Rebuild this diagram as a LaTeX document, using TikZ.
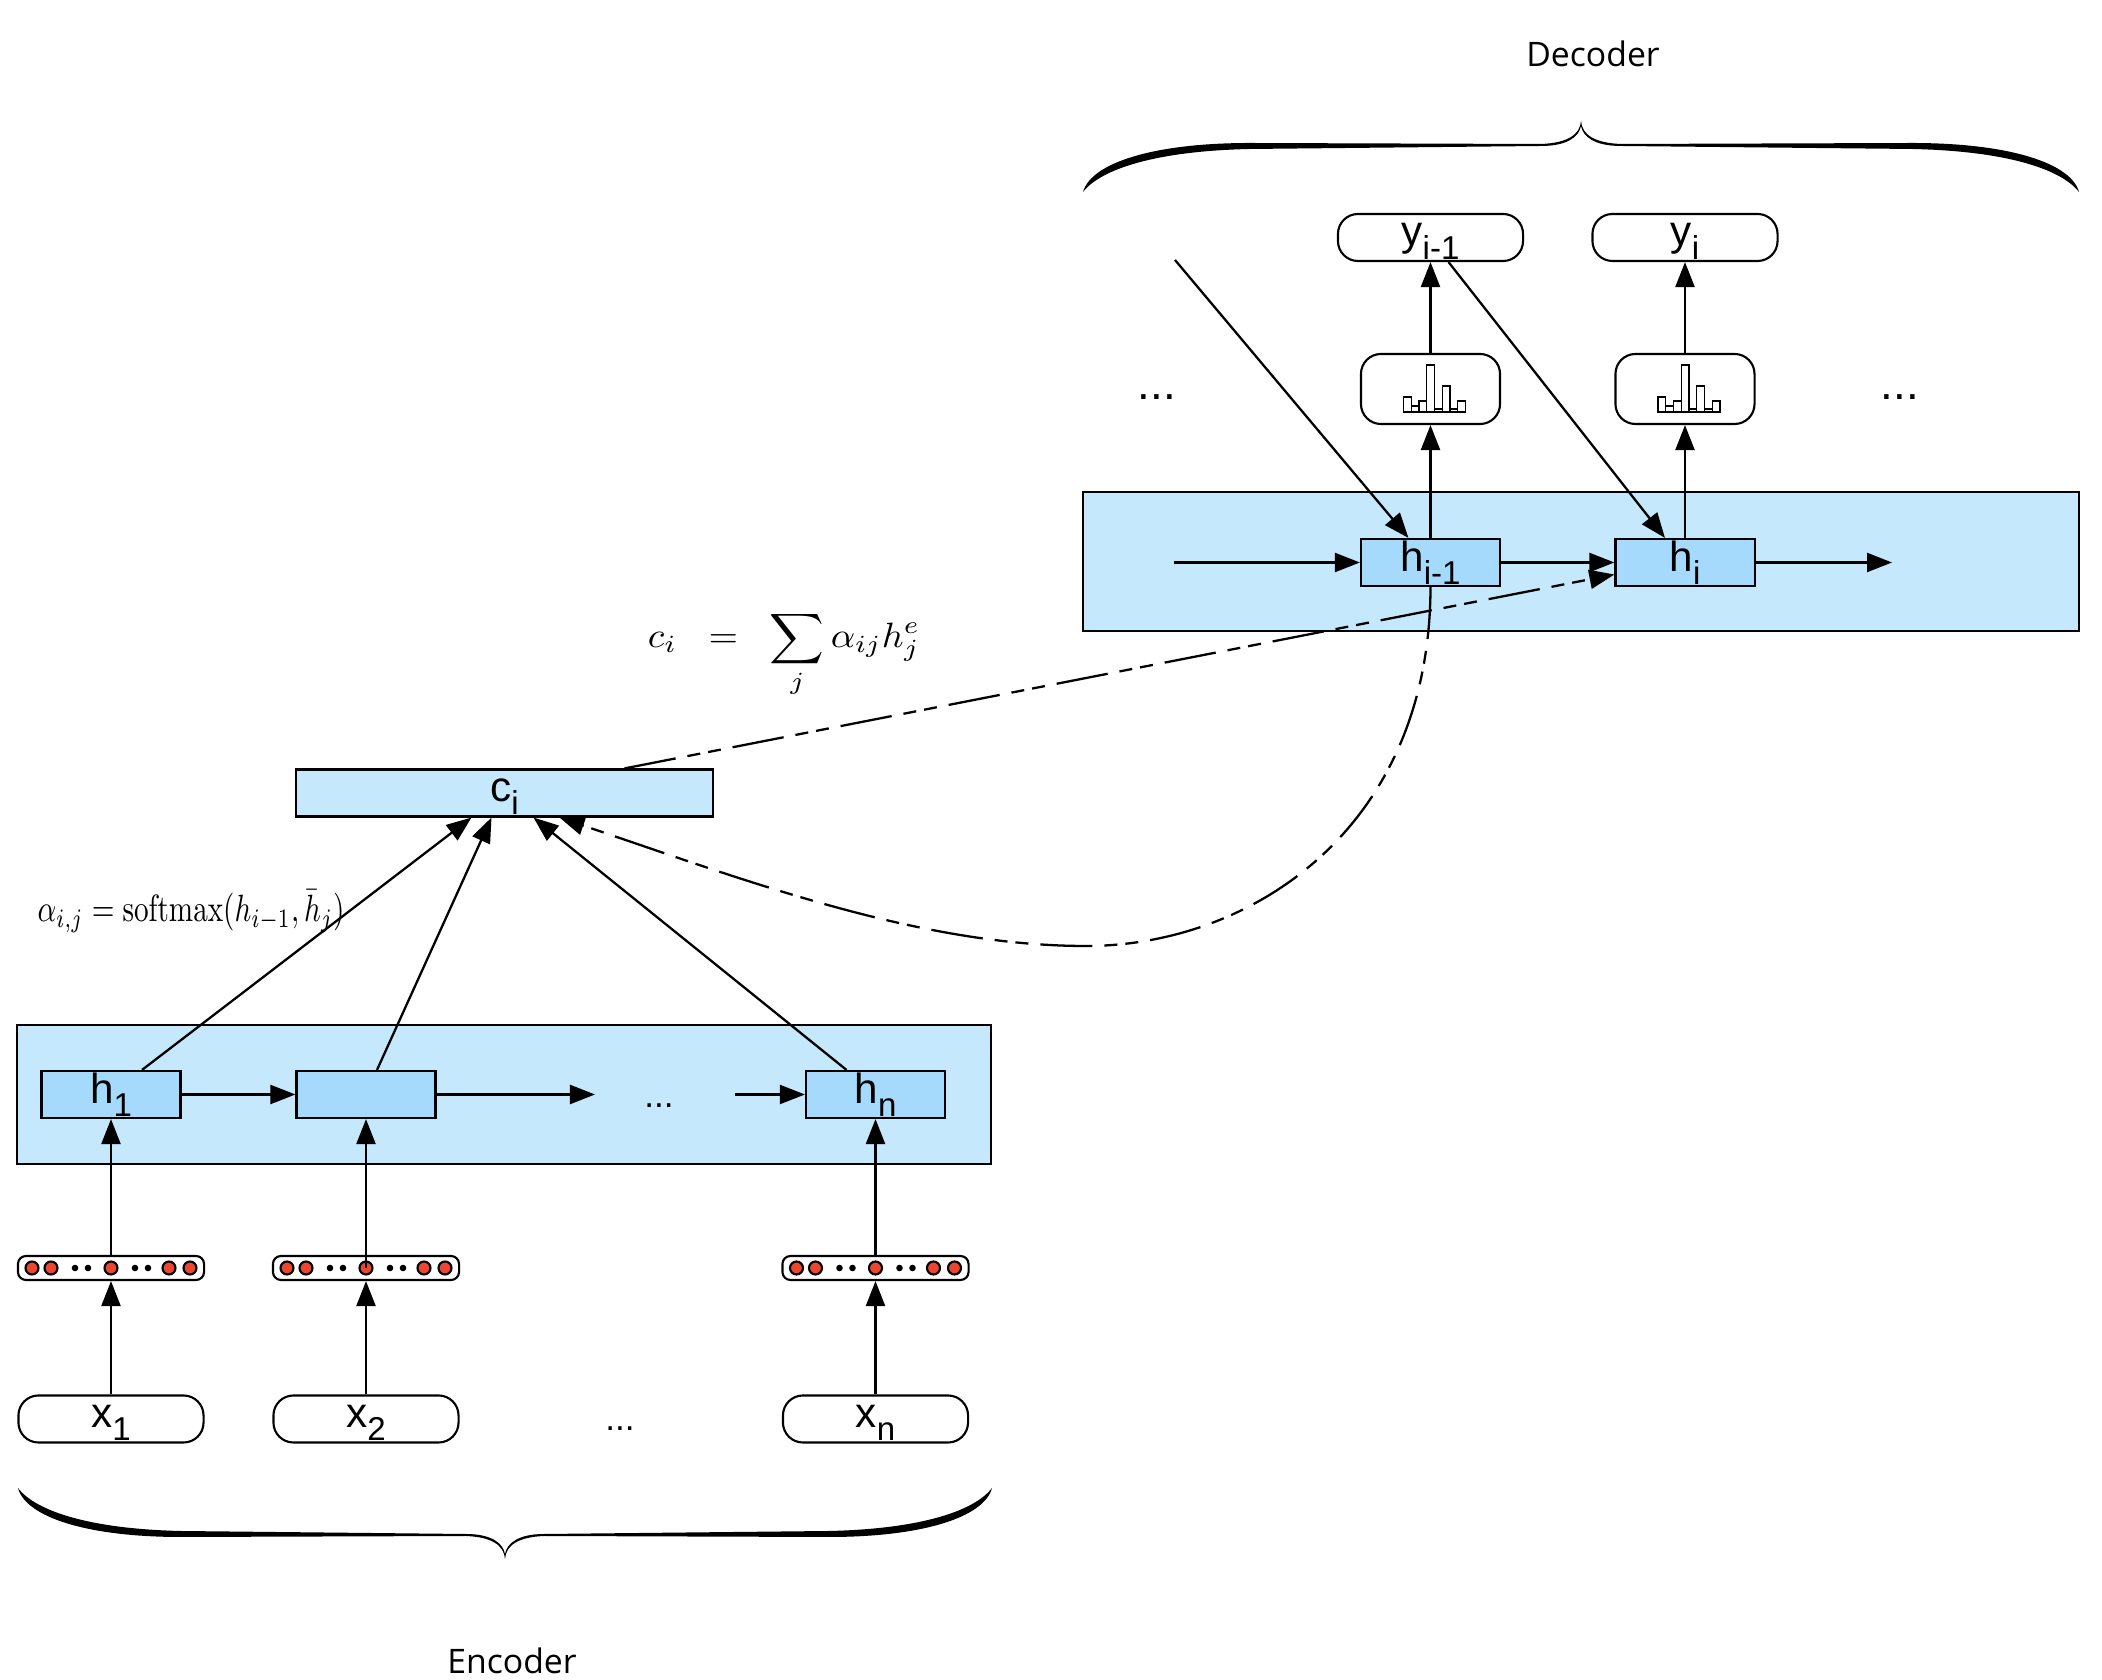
\documentclass[tikz,border=0pt]{standalone}
\usepackage[no-math]{fontspec}
\usepackage{graphicx}
\setmainfont{Liberation Sans}
\newfontfamily\titlefont{Open Sans}
\usetikzlibrary{arrows.meta}
\definecolor{bandblue}{RGB}{197,232,253}
\definecolor{cellblue}{RGB}{166,218,252}
\definecolor{dotred}{RGB}{238,69,48}
\newcommand{\sublabel}[2]{\rule{0pt}{3mm}\fontsize{12}{14}\selectfont #1\raisebox{-1.35mm}{\fontsize{9.4}{11}\selectfont #2}}
\tikzset{
	bandbox/.style={draw, fill=bandblue, line width=0.6pt, inner sep=0pt},
	cellbox/.style={draw, fill=cellblue, line width=0.6pt, inner sep=0pt, minimum width=1.39cm, minimum height=0.47cm},
	pillbox/.style={draw, fill=white, line width=0.6pt, inner sep=0pt, rounded corners=2mm, minimum width=1.85cm, minimum height=0.47cm},
	distbox/.style={draw, fill=white, line width=0.6pt, rounded corners=2mm, minimum width=1.39cm, minimum height=0.70cm},
	embedbox/.style={draw, fill=white, line width=0.6pt, rounded corners=0.8mm, minimum width=1.86cm, minimum height=0.24cm},
	arr/.style={line width=0.65pt, -{Triangle[length=2.5mm,width=1.9mm]}},
	dashline/.style={dash pattern=on 0.52cm off 0.12cm on 0.13cm off 0.08cm on 0.13cm off 0.12cm},
	pics/curlybrace/.style={code={
		\fill (0,0) .. controls (1,14) and (14,22) .. (40,23) -- (331,22) .. controls (428,22) and (490,42) .. (498,71)
			.. controls (480,48) and (425,30) .. (331,28) -- (40,25) .. controls (14,25) and (2,16) .. (0,5)
			.. controls (-2,16) and (-14,25) .. (-40,25) -- (-331,28) .. controls (-425,30) and (-480,48) .. (-498,71)
			.. controls (-490,42) and (-428,22) .. (-331,22) -- (-40,23) .. controls (-14,22) and (-1,14) .. (0,0) -- cycle;
	}},
	pics/histbars/.style={code={
		\draw[line width=0.3pt, fill=white] (-27,23) rectangle (-19.3,8) (-19.3,23) rectangle (-11.5,17)
			(-11.5,23) rectangle (-3.8,12) (-3.8,23) rectangle (4,-24) (4,23) rectangle (11.7,20)
			(11.7,23) rectangle (19.5,-3) (19.5,23) rectangle (27.2,20) (27.2,23) rectangle (35,12);
	}},
	pics/embeddots/.style={code={
		\filldraw[fill=dotred, line width=0.6pt] (-79,0) circle (6.5) (-60,0) circle (6.5) (0,0) circle (6.5) (58,0) circle (6.5) (79,0) circle (6.5);
		\fill (-36,0) circle (3.3) (-23,0) circle (3.3) (24,0) circle (3.3) (37,0) circle (3.3);
	}},
}
\begin{document}
\begin{tikzpicture}[x=0.01cm, y=-0.01cm]
	\useasboundingbox (0,0) rectangle (2102,1680);

	% Decoder
	\node (decodertitle) at (1593,54) {\fontsize{9.6}{12}\selectfont\titlefont Decoder};
	\pic at (1581,121) {curlybrace};
	\node[bandbox, minimum width=9.95cm, minimum height=1.39cm] (decband) at (1581,561.5) {};
	\node[cellbox] (hprev) at (1430.5,562.5) {\sublabel{h}{i-1}};
	\node[cellbox] (hcur) at (1685,562.5) {\sublabel{h}{i}};
	\node[distbox] (distprev) at (1430.5,389) {};
	\node[distbox] (distcur) at (1685,389) {};
	\pic at (distprev.center) {histbars};
	\pic at (distcur.center) {histbars};
	\node[pillbox] (yprev) at (1430.5,237.5) {\sublabel{y}{i-1}};
	\node[pillbox] (ycur) at (1685,237.5) {\sublabel{y}{i}};
	\node[anchor=base] (dotsleft) at (1157,400) {\fontsize{13}{15}\selectfont ...};
	\node[anchor=base] (dotsright) at (1900,400) {\fontsize{13}{15}\selectfont ...};
	\coordinate (decin) at (1174,562.5);
	\coordinate (decout) at (1892,562.5);
	\coordinate (diagin) at (1175,260);
	\draw[arr] (decin) -- (hprev.west);
	\draw[arr] (hprev.east) -- (hcur.west);
	\draw[arr] (hcur.east) -- (decout);
	\draw[arr] (hprev.north) -- (distprev.south);
	\draw[arr] (hcur.north) -- (distcur.south);
	\draw[arr] (distprev.north) -- (yprev.south);
	\draw[arr] (distcur.north) -- (ycur.south);
	\draw[arr] (diagin) -- ([xshift=-2.2mm]hprev.north);
	\draw[arr] ([xshift=1.8mm]yprev.south) -- ([xshift=-2mm]hcur.north);

	% Context vector
	\node[draw, fill=bandblue, line width=0.6pt, inner sep=0pt, minimum width=4.17cm, minimum height=0.47cm] (ci) at (504.5,793) {\sublabel{c}{i}};
	\node (sumformula) at (784,654) {\scalebox{1.08}[1]{$c_i\;\;=\;\;\displaystyle\sum_j \alpha_{ij}h_j^e$}};
	\draw[arr, dashline] ([xshift=1.2cm]ci.north) -- ([yshift=-1.2mm]hcur.west);
	\draw[arr, dashline] (hprev.south) .. controls (1430,830) and (1250,946) .. (1086,946) .. controls (920,946) and (750,882) .. ([xshift=5.5mm]ci.south);

	% Encoder
	\node[bandbox, minimum width=9.73cm, minimum height=1.39cm] (encband) at (504,1094.5) {};
	\node[cellbox] (hone) at (111,1094.5) {\sublabel{h}{1}};
	\node[cellbox] (htwo) at (366,1094.5) {};
	\node[cellbox] (hlast) at (875.5,1094.5) {\sublabel{h}{n}};
	\node[embedbox] (embone) at (111,1268) {};
	\node[embedbox] (embtwo) at (366,1268) {};
	\node[embedbox] (emblast) at (875.5,1268) {};
	\pic at (embone.center) {embeddots};
	\pic at (embtwo.center) {embeddots};
	\pic at (emblast.center) {embeddots};
	\node[pillbox] (xone) at (111,1419) {\sublabel{x}{1}};
	\node[pillbox] (xtwo) at (366,1419) {\sublabel{x}{2}};
	\node[pillbox] (xlast) at (875.5,1419) {\sublabel{x}{n}};
	\node[anchor=base] (dotsband) at (659,1108) {\fontsize{10}{12}\selectfont ...};
	\node[anchor=base] (dotsinput) at (620,1431) {\fontsize{10}{12}\selectfont ...};
	\coordinate (bandout) at (595,1094.5);
	\coordinate (bandin) at (735,1094.5);
	\draw[arr] (hone.east) -- (htwo.west);
	\draw[arr] (htwo.east) -- (bandout);
	\draw[arr] (bandin) -- (hlast.west);
	\draw[arr] (xone.north) -- (embone.south);
	\draw[arr] (xtwo.north) -- (embtwo.south);
	\draw[arr] (xlast.north) -- (emblast.south);
	\draw[arr] (embone.north) -- (hone.south);
	\draw[arr] (embtwo.center) -- (htwo.south);
	\draw[arr] (emblast.north) -- (hlast.south);
	\draw[arr] ([xshift=3.1mm]hone.north) -- ([xshift=-3.3mm]ci.south);
	\draw[arr] ([xshift=1.1mm]htwo.north) -- ([xshift=-1.3mm]ci.south);
	\draw[arr] ([xshift=-2.9mm]hlast.north) -- ([xshift=2.9mm]ci.south);
	\node (softmaxformula) at (191,911) {\scalebox{0.83}[1.08]{$\alpha_{i,j}=\mathrm{softmax}(h_{i-1},\bar{h}_j)$}};
	\pic[xscale=0.978, yscale=-1] at (505,1559) {curlybrace};
	\node (encodertitle) at (512,1661) {\fontsize{9.6}{12}\selectfont\titlefont Encoder};
\end{tikzpicture}
\end{document}
